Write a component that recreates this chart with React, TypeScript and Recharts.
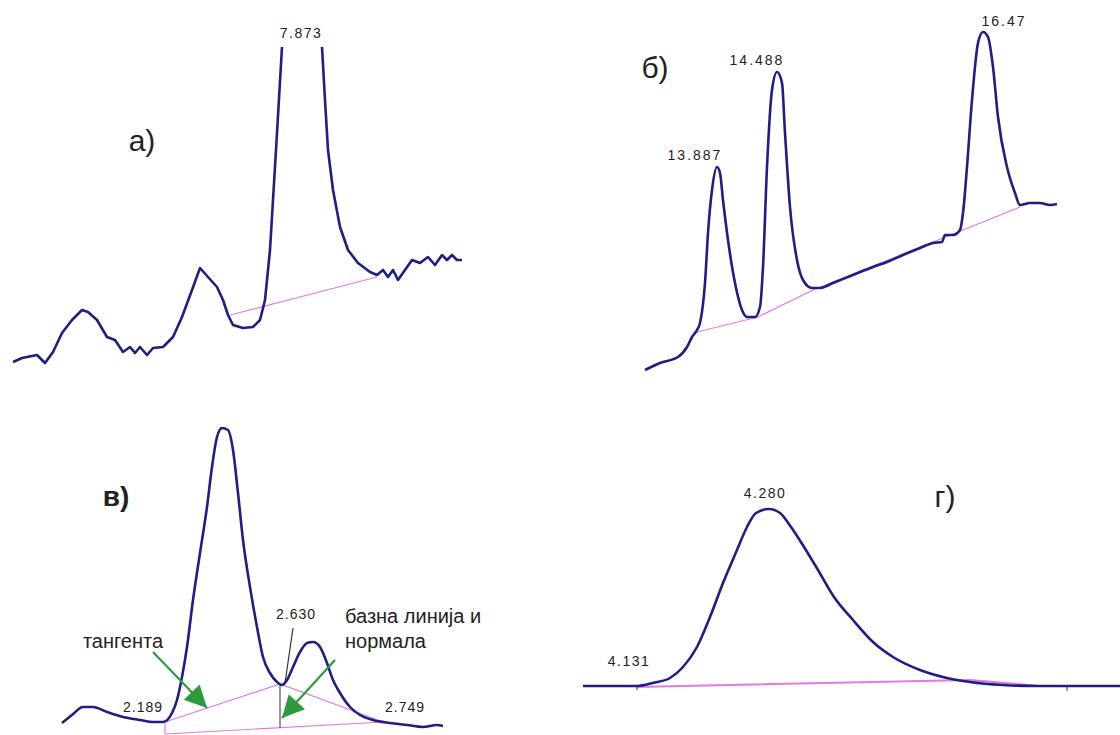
import React from 'react';
import { LineChart, Line, XAxis, YAxis } from 'recharts';

const NAVY = '#1e1e84';
const PINK = '#e07ce0';
const GREEN = '#2f9a3c';
const INK = '#333333';

// panel а) – signal runs off scale at the 7.873 peak, so it is kept in two parts
const aTimeRise = [13, 22, 37, 45, 53, 62, 72, 82, 88, 97, 107, 115, 123, 130, 135, 140, 147, 153, 163, 173, 182, 192, 200, 208, 217, 223, 228, 233, 243, 253, 260, 265, 270, 273, 277, 282];
const aSignalRise = [18, 22, 25, 17, 28, 47, 60, 70, 68, 60, 43, 40, 28, 33, 27, 33, 25, 32, 33, 43, 63, 90, 112, 103, 93, 80, 65, 55, 52, 53, 60, 80, 130, 180, 247, 333];
const aTimeFall = [322, 325, 328, 333, 340, 348, 358, 370, 377, 383, 388, 393, 398, 405, 412, 420, 428, 435, 442, 447, 452, 457, 462];
const aSignalFall = [333, 280, 230, 190, 153, 130, 117, 108, 105, 110, 103, 110, 100, 110, 120, 117, 123, 115, 125, 120, 125, 120, 120];
const aBaseTime = [230, 377];
const aBaseSignal = [65, 103];

// panel б)
const bTime = [645, 660, 678, 687, 692, 697, 700, 705, 708, 712, 717, 720, 723, 728, 735, 742, 747, 755, 760, 763, 767, 772, 777, 782, 785, 790, 797, 803, 812, 820, 833, 853, 873, 887, 903, 920, 933, 942, 945, 953, 960, 963, 967, 972, 978, 983, 988, 993, 998, 1007, 1015, 1020, 1030, 1040, 1050, 1057];
const bSignal = [10, 17, 23, 33, 43, 50, 57, 97, 147, 190, 213, 207, 180, 140, 97, 70, 63, 63, 73, 113, 213, 290, 308, 297, 247, 173, 120, 100, 92, 92, 97, 105, 113, 118, 125, 132, 137, 138, 145, 145, 150, 167, 213, 280, 337, 348, 343, 313, 263, 213, 187, 175, 177, 177, 175, 176];
const bBaseTime = [693, 758, 813, 963, 1020];
const bBaseSignal = [47, 63, 90, 150, 173];

// panel в)
const cTime = [62, 72, 83, 93, 107, 123, 140, 153, 163, 172, 177, 182, 187, 193, 200, 207, 212, 217, 222, 228, 233, 238, 243, 250, 257, 263, 270, 277, 282, 287, 293, 300, 307, 313, 320, 327, 333, 340, 350, 360, 373, 390, 407, 423, 437, 443];
const cSignal = [12, 20, 28, 28, 23, 18, 15, 13, 13, 22, 35, 58, 88, 135, 182, 228, 268, 298, 307, 305, 285, 242, 195, 148, 108, 78, 62, 53, 50, 55, 68, 83, 92, 93, 88, 72, 55, 42, 28, 20, 15, 12, 10, 8, 10, 9];
const cTangentTime = [165, 280, 383];
const cTangentSignal = [13, 51, 13];
const cBaseTime = [165, 383];
const cBaseSignal = [1, 13];
const cDrop1 = [[165, 13], [165, 1]];
const cDrop2 = [[280, 51], [280, 7]];
const cLeader = [[293, 107], [285, 52]];
const cArrow1 = [[153, 83], [207, 27]];
const cArrow2 = [[335, 75], [282, 17]];

// panel г)
const dTime = [583, 637, 653, 670, 683, 697, 710, 723, 737, 747, 756, 769, 780, 791, 804, 818, 834, 853, 873, 893, 920, 947, 970, 1003, 1037, 1120];
const dSignal = [49, 49, 52, 57, 68, 88, 118, 152, 185, 208, 222, 226, 222, 208, 188, 165, 138, 115, 93, 78, 65, 57, 53, 50, 49, 49];
const dBaseTime = [637, 970, 1040];
const dBaseSignal = [48, 55, 49];
const dTick1 = [[637, 49], [637, 45]];
const dTick2 = [[1067, 49], [1067, 44]];

type Pt = { x: number; y: number | null };

const zip = (xs: number[], ys: (number | null)[]): Pt[] => xs.map((x, i) => ({ x, y: ys[i] }));
const pairs = (p: number[][]): Pt[] => p.map(([x, y]) => ({ x, y }));

const arrowHead = (seg: number[][]) => (props: any) => {
  const { cx, cy, index } = props;
  if (index !== seg.length - 1 || cx == null) return <g key={`n${index}`} />;
  const [x0, y0] = seg[0];
  const [x1, y1] = seg[seg.length - 1];
  const ang = Math.atan2(-(y1 - y0), x1 - x0);
  const L = 22;
  const W = 11;
  const bx = cx - L * Math.cos(ang);
  const by = cy - L * Math.sin(ang);
  const px = -Math.sin(ang) * W;
  const py = Math.cos(ang) * W;
  return (
    <polygon
      key={`h${index}`}
      points={`${cx},${cy} ${bx + px},${by + py} ${bx - px},${by - py}`}
      fill={GREEN}
    />
  );
};

interface PanelProps {
  left: number;
  top: number;
  width: number;
  height: number;
  children: React.ReactNode;
}

const Panel: React.FC<PanelProps> = ({ left, top, width, height, children }) => (
  <div style={{ position: 'absolute', left, top }}>
    <LineChart width={width} height={height} margin={{ top: 0, right: 0, bottom: 0, left: 0 }}>
      <XAxis type="number" dataKey="x" domain={[left, left + width]} hide allowDataOverflow />
      <YAxis type="number" domain={[0, height]} hide allowDataOverflow />
      {children}
    </LineChart>
  </div>
);

const signal = (data: Pt[], key: string, curve: 'monotone' | 'linear' = 'monotone') => (
  <Line
    key={key}
    data={data}
    dataKey="y"
    type={curve}
    stroke={NAVY}
    strokeWidth={2.6}
    strokeLinejoin="round"
    dot={false}
    activeDot={false}
    isAnimationActive={false}
  />
);

const thin = (data: Pt[], key: string, color: string, width = 1.2) => (
  <Line
    key={key}
    data={data}
    dataKey="y"
    type="linear"
    stroke={color}
    strokeWidth={width}
    dot={false}
    activeDot={false}
    isAnimationActive={false}
  />
);

const arrow = (seg: number[][], key: string) => (
  <Line
    key={key}
    data={pairs(seg)}
    dataKey="y"
    type="linear"
    stroke={GREEN}
    strokeWidth={2.2}
    dot={arrowHead(seg)}
    activeDot={false}
    isAnimationActive={false}
  />
);

const Txt: React.FC<{ x: number; y: number; size?: number; bold?: boolean; spacing?: number; align?: 'center' | 'left'; children: React.ReactNode }> = ({
  x,
  y,
  size = 14,
  bold = false,
  spacing = 0,
  align = 'center',
  children,
}) => (
  <div
    style={{
      position: 'absolute',
      left: x,
      top: y,
      transform: align === 'center' ? 'translate(-50%, -50%)' : 'translate(0, -50%)',
      fontSize: size,
      lineHeight: 1,
      fontWeight: bold ? 700 : 400,
      letterSpacing: spacing,
      whiteSpace: 'nowrap',
      color: '#222',
    }}
  >
    {children}
  </div>
);

export default function App() {
  return (
    <div
      style={{
        position: 'absolute',
        left: 0,
        top: 0,
        width: 1120,
        height: 735,
        background: '#fff',
        overflow: 'hidden',
        fontFamily: '"Liberation Sans", Arial, sans-serif',
      }}
    >
      <Panel left={0} top={0} width={480} height={380}>
        {thin(zip(aBaseTime, aBaseSignal), 'ab', PINK)}
        {signal(zip(aTimeRise, aSignalRise), 'as1', 'linear')}
        {signal(zip(aTimeFall, aSignalFall), 'as2', 'linear')}
      </Panel>

      <Panel left={620} top={0} width={500} height={380}>
        {thin(zip(bBaseTime, bBaseSignal), 'bb', PINK)}
        {signal(zip(bTime, bSignal), 'bs')}
      </Panel>

      <Panel left={40} top={400} width={480} height={335}>
        {thin(zip(cTangentTime, cTangentSignal), 'ct', PINK)}
        {thin(zip(cBaseTime, cBaseSignal), 'cb', PINK)}
        {thin(pairs(cDrop1), 'cd1', PINK)}
        {thin(pairs(cDrop2), 'cd2', INK, 1)}
        {thin(pairs(cLeader), 'cl', INK, 1.2)}
        {signal(zip(cTime, cSignal), 'cs')}
        {arrow(cArrow1, 'ca1')}
        {arrow(cArrow2, 'ca2')}
      </Panel>

      <Panel left={570} top={460} width={550} height={275}>
        {thin(zip(dBaseTime, dBaseSignal), 'db', PINK, 2)}
        {signal(zip(dTime, dSignal), 'ds')}
        {thin(pairs(dTick1), 'dt1', INK, 1)}
        {thin(pairs(dTick2), 'dt2', INK, 1)}
      </Panel>

      <Txt x={301} y={33} spacing={1.5}>7.873</Txt>
      <Txt x={142} y={141} size={30}>а)</Txt>

      <Txt x={655} y={68} size={30}>б)</Txt>
      <Txt x={757} y={60} spacing={2}>14.488</Txt>
      <Txt x={695} y={155} spacing={2}>13.887</Txt>
      <Txt x={1004} y={21} spacing={2}>16.47</Txt>

      <Txt x={116} y={497} size={28} bold>в)</Txt>
      <Txt x={123} y={641} size={20}>тангента</Txt>
      <Txt x={296} y={614} spacing={1}>2.630</Txt>
      <Txt x={345} y={616} size={20} align="left">базна линија и</Txt>
      <Txt x={345} y={641} size={20} align="left">нормала</Txt>
      <Txt x={143} y={707} spacing={1}>2.189</Txt>
      <Txt x={405} y={707} spacing={1}>2.749</Txt>

      <Txt x={765} y={493} spacing={1.5}>4.280</Txt>
      <Txt x={629} y={661} spacing={1.5}>4.131</Txt>
      <Txt x={945} y={497} size={30}>г)</Txt>
    </div>
  );
}
